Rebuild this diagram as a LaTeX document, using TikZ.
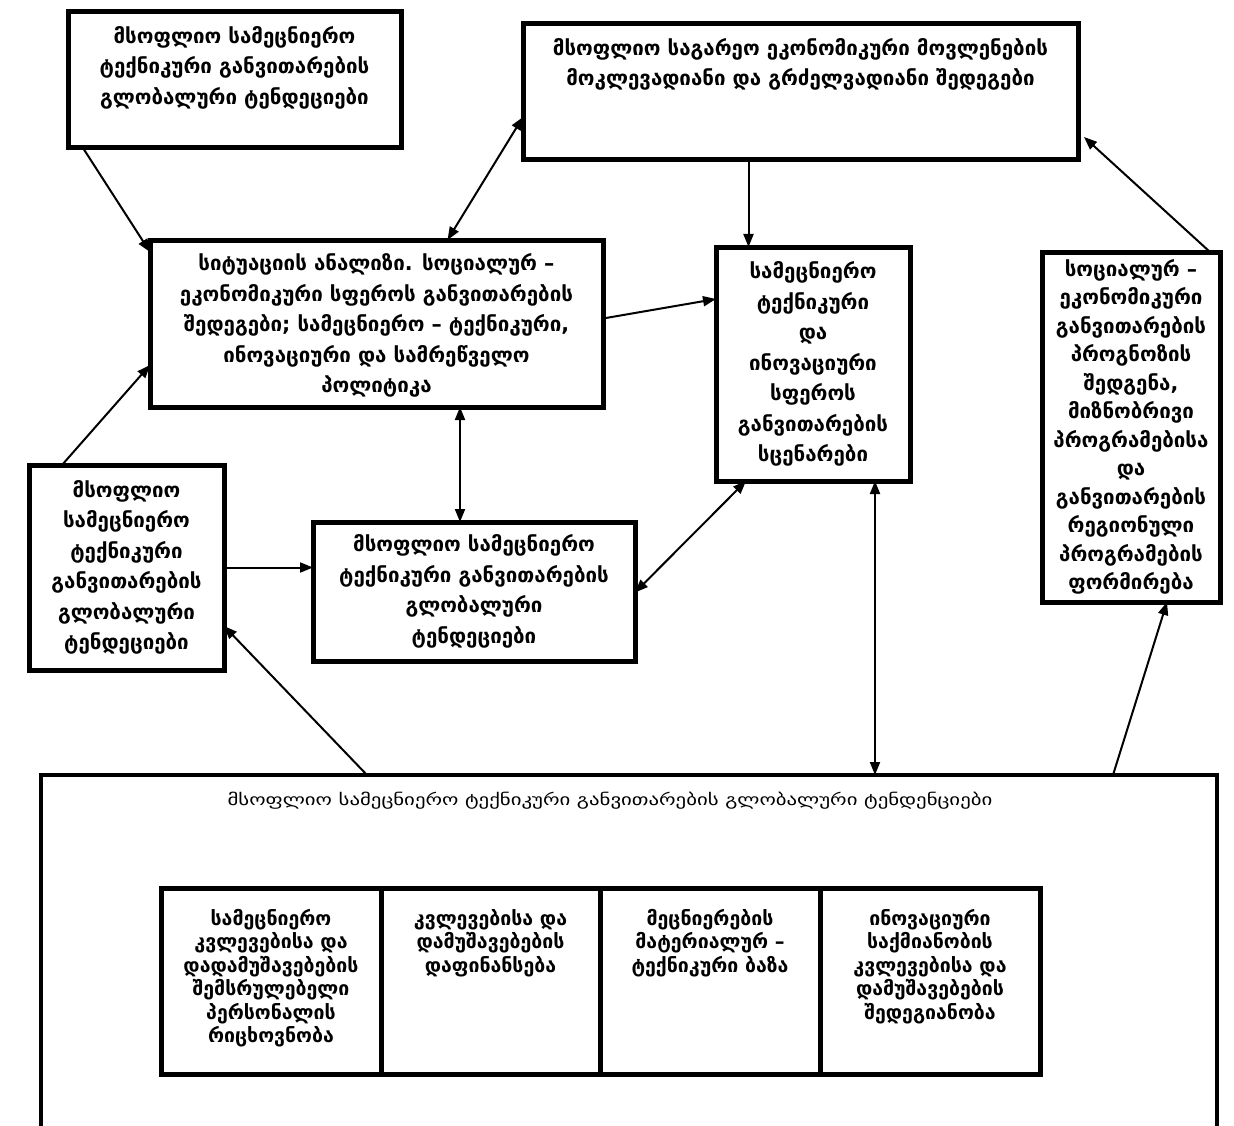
\documentclass[tikz,border=0pt]{standalone}
\usepackage{fontspec}
\newfontfamily\geo{DejaVu Sans}
\usetikzlibrary{arrows.meta,calc}
\tikzset{
  box/.style={draw, line width=5pt, inner sep=0pt, outer sep=0pt, anchor=north west},
  bigbox/.style={draw, line width=4pt, inner sep=0pt, outer sep=0pt, anchor=north west},
  txt/.style={align=center, inner sep=0pt, font=\geo\bfseries\fontsize{20.5}{30.5}\selectfont},
  txts/.style={align=center, inner sep=0pt, font=\geo\bfseries\fontsize{19.5}{23.5}\selectfont},
  arr/.style={line width=2pt, -{Triangle[length=13pt,width=10pt]}},
  darr/.style={line width=2pt, {Triangle[length=13pt,width=10pt]}-{Triangle[length=13pt,width=10pt]}}
}
\begin{document}
\begin{tikzpicture}[x=1pt,y=-1pt]
\useasboundingbox (0,0) rectangle (1234,1126);
\clip (0,0) rectangle (1234,1126);
% boxes
\node[box, minimum width=333pt, minimum height=136pt] (A) at (68,12) {};
\node[txt, anchor=north] at ([yshift=-14pt]A.north) {მსოფლიო სამეცნიერო\\ტექნიკური განვითარების\\გლობალური ტენდეციები};
\node[box, minimum width=555pt, minimum height=136pt] (B) at (523,24) {};
\node[txt, anchor=north] at ([yshift=-14pt]B.north) {მსოფლიო საგარეო ეკონომიკური მოვლენების\\მოკლევადიანი და გრძელვადიანი შედეგები};
\node[box, minimum width=453pt, minimum height=167pt] (C) at (150,240) {};
\node[txt] at ([yshift=-2pt]C.center) {სიტუაციის ანალიზი. სოციალურ –\\ეკონომიკური სფეროს განვითარების\\შედეგები; სამეცნიერო – ტექნიკური,\\ინოვაციური და სამრეწველო\\პოლიტიკა};
\node[box, minimum width=194pt, minimum height=234pt] (D) at (716,247) {};
\node[txt] at (D.center) {სამეცნიერო\\ტექნიკური\\და\\ინოვაციური\\სფეროს\\განვითარების\\სცენარები};
\node[box, minimum width=178pt, minimum height=350pt] (E) at (1042,252) {};
\node[txt, font=\geo\bfseries\fontsize{20.5}{28.5}\selectfont] at (E.center) {სოციალურ –\\ეკონომიკური\\განვითარების\\პროგნოზის\\შედგენა,\\მიზნობრივი\\პროგრამებისა\\და\\განვითარების\\რეგიონული\\პროგრამების\\ფორმირება};
\node[box, minimum width=195pt, minimum height=205pt] (F) at (29,465) {};
\node[txt] at (F.center) {მსოფლიო\\სამეცნიერო\\ტექნიკური\\განვითარების\\გლობალური\\ტენდეციები};
\node[box, minimum width=322pt, minimum height=139pt] (G) at (313,522) {};
\node[txt] at (G.center) {მსოფლიო სამეცნიერო\\ტექნიკური განვითარების\\გლობალური\\ტენდეციები};
% big box
\node[bigbox, minimum width=1176pt, minimum height=380pt] (Big) at (41,775) {};
\node[align=center, inner sep=0pt, font=\geo\fontsize{16}{20}\selectfont] (title) at (610,801) {\scalebox{1.3}[1]{მსოფლიო სამეცნიერო ტექნიკური განვითარების გლობალური ტენდენციები}};
\node[box, minimum width=220pt, minimum height=186pt] (S1) at (161,888) {};
\node[box, minimum width=219pt, minimum height=186pt] (S2) at (381,888) {};
\node[box, minimum width=220pt, minimum height=186pt] (S3) at (600,888) {};
\node[box, minimum width=220pt, minimum height=186pt] (S4) at (820,888) {};
\node[txts, anchor=north] at ([yshift=-21pt]S1.north) {სამეცნიერო\\კვლევებისა და\\დადამუშავებების\\შემსრულებელი\\პერსონალის\\რიცხოვნობა};
\node[txts, anchor=north] at ([yshift=-21pt]S2.north) {კვლევებისა და\\დამუშავებების\\დაფინანსება};
\node[txts, anchor=north] at ([yshift=-21pt]S3.north) {მეცნიერების\\მატერიალურ –\\ტექნიკური ბაზა};
\node[txts, anchor=north] at ([yshift=-21pt]S4.north) {ინოვაციური\\საქმიანობის\\კვლევებისა და\\დამუშავებების\\შედეგიანობა};
% connectors
\draw[arr] ([xshift=15pt]A.south west) -- ([yshift=-12pt]C.north west);
\draw[darr] ([yshift=-93pt]B.north west) -- ([xshift=71pt]C.north);
\draw[arr] ([xshift=-52pt]B.south) -- ([xshift=-52pt]B.south |- D.north);
\draw[arr] ([yshift=5pt]C.east) -- ([yshift=-52pt]D.north west);
\draw[darr] ([xshift=83.5pt]C.south) -- ([xshift=83.5pt]C.south |- G.north);
\draw[arr] ([xshift=33pt]F.north west) -- ([yshift=-125pt]C.north west);
\draw[arr] (F.east) -- (F.east -| G.west);
\draw[darr] ([yshift=-1pt]G.east) -- ([xshift=30pt]D.south west);
\draw[darr] ([xshift=62pt]D.south) -- ([xshift=62pt]D.south |- Big.north);
\draw[arr] ([xshift=326pt]Big.north west) -- ([yshift=-161pt]F.north east);
\draw[arr] ([xshift=1072pt]Big.north west) -- ([xshift=125pt]E.south west);
\draw[arr] ([xshift=-10pt]E.north east) -- ([xshift=6pt,yshift=-113pt]B.north east);
\end{tikzpicture}
\end{document}
